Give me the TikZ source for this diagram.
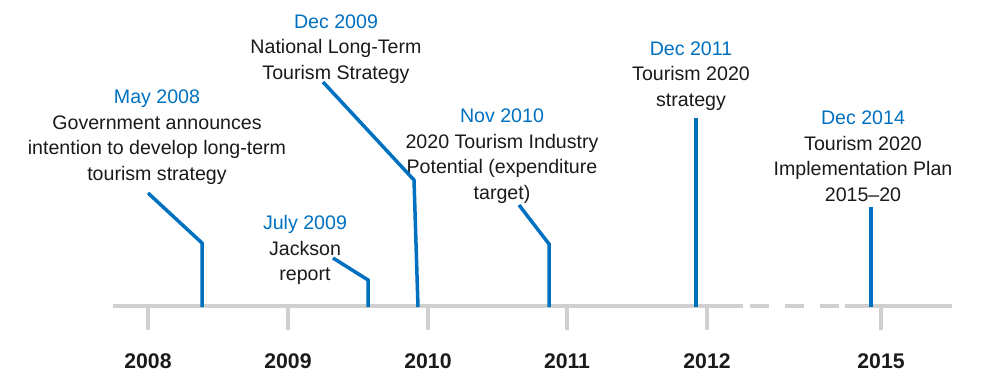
\documentclass[tikz,border=0pt]{standalone}
\usepackage{fontspec}
\setmainfont{Liberation Sans}
\usetikzlibrary{positioning}
\definecolor{tlblue}{HTML}{0070C0}
\definecolor{tlgray}{HTML}{D0D0D0}
\definecolor{tltext}{HTML}{1A1A1A}
\tikzset{
	event/.style={align=center,inner sep=0pt,text=tltext,font=\fontsize{19.6}{25.5}\selectfont},
	year/.style={inner sep=0pt,text=tltext,font=\fontsize{21.2}{24}\selectfont\bfseries},
	leader/.style={tlblue,line width=3.5pt},
	axis/.style={tlgray,line width=4.5pt},
	tick/.style={tlgray,line width=4pt},
}
\newcommand{\when}[1]{\textcolor{tlblue}{#1}}

\begin{document}
\begin{tikzpicture}[x=1pt,y=-1pt]
\useasboundingbox (0,0) rectangle (982,386);
\draw[axis] (113,306) -- (743,306);
\draw[axis,dash pattern=on 19pt off 16pt] (750,306) -- (845,306);
\draw[axis] (845,306) -- (952,306);
\foreach \x/\yr in {148/2008,288/2009,428/2010,567/2011,707/2012,881/2015}{
	\draw[tick] (\x,308) -- (\x,330);
	\node[year] (y\yr) at (\x,361) {\yr};
}
\node[event] (may08) at (157,137) {\when{May 2008}\\Government announces\\intention to develop long-term\\tourism strategy};
\node[event] (jul09) at (305,250) {\when{July 2009}\\Jackson\\report};
\node[event] (dec09) at (336,49) {\when{Dec 2009}\\National Long-Term\\Tourism Strategy};
\node[event] (nov10) at (502,156) {\when{Nov 2010}\\2020 Tourism Industry\\Potential (expenditure\\target)};
\node[event] (dec11) at (691,76) {\when{Dec 2011}\\Tourism 2020\\strategy};
\node[event] (dec14) at (863,156) {\when{Dec 2014}\\Tourism 2020\\Implementation Plan\\2015--20};
\coordinate (may08s) at (148,193);
\coordinate (may08k) at (202,243);
\coordinate (may08e) at (202,307);
\coordinate (jul09s) at (333,258);
\coordinate (jul09k) at (368,280);
\coordinate (jul09e) at (368,307);
\coordinate (dec09s) at (323,82);
\coordinate (dec09k) at (414,180);
\coordinate (dec09e) at (418,307);
\coordinate (nov10s) at (519,205);
\coordinate (nov10k) at (549,244);
\coordinate (nov10e) at (549,307);
\coordinate (dec11s) at (696,118);
\coordinate (dec11e) at (696,307);
\coordinate (dec14s) at (871,207);
\coordinate (dec14e) at (871,307);
\draw[leader] (may08s) -- (may08k) -- (may08e);
\draw[leader] (jul09s) -- (jul09k) -- (jul09e);
\draw[leader] (dec09s) -- (dec09k) -- (dec09e);
\draw[leader] (nov10s) -- (nov10k) -- (nov10e);
\draw[leader] (dec11s) -- (dec11e);
\draw[leader] (dec14s) -- (dec14e);
\end{tikzpicture}
\end{document}
